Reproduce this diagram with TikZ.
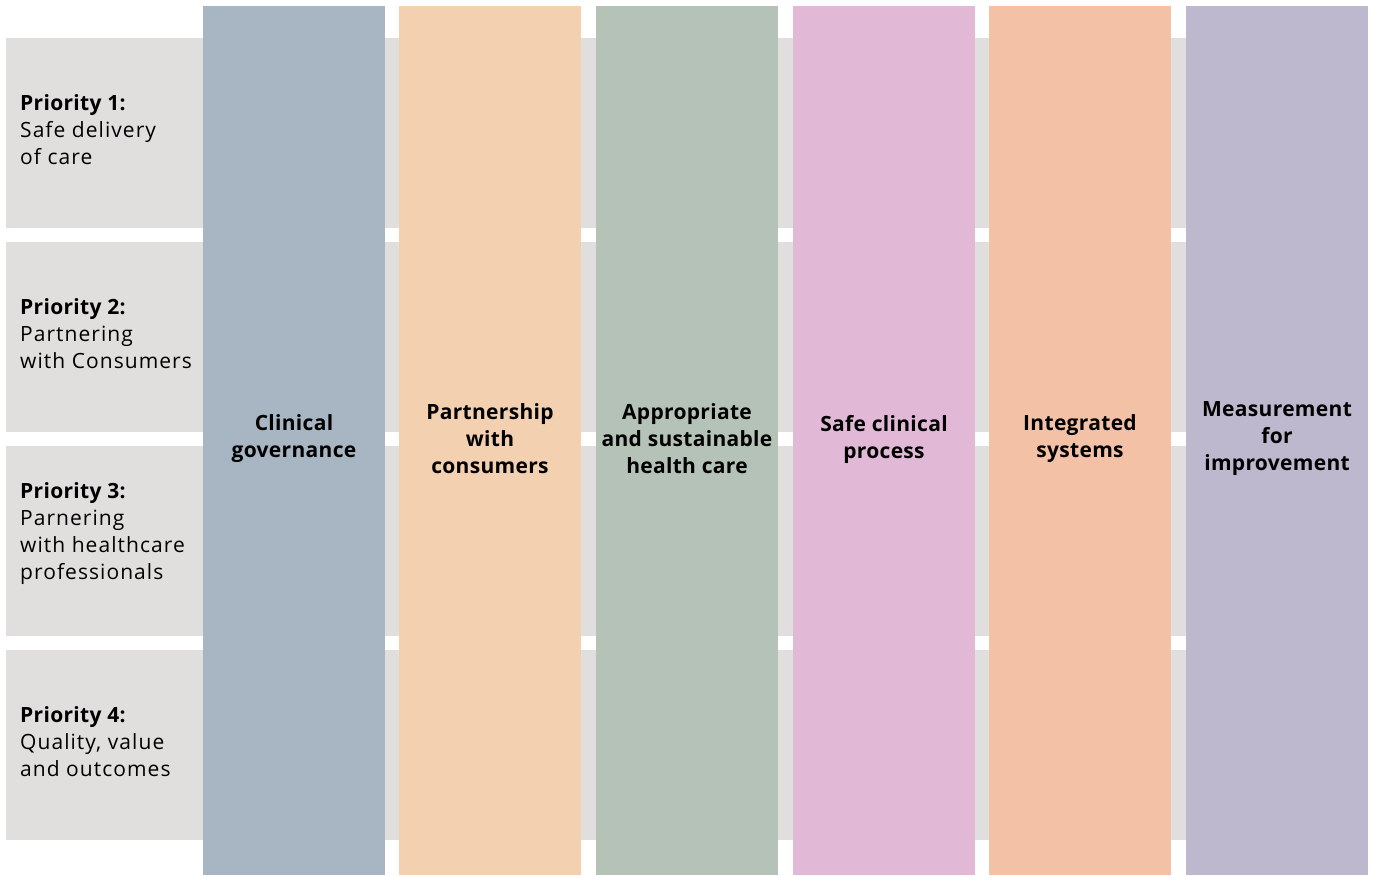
\documentclass[tikz,border=0pt]{standalone}
\usepackage{fontspec}
\setmainfont{Open Sans}[UprightFeatures={LetterSpace=5},BoldFeatures={LetterSpace=1.5}]
\definecolor{rowgray}{HTML}{E0DFDD}
\definecolor{cA}{HTML}{A8B5C2}
\definecolor{cB}{HTML}{F2D0B0}
\definecolor{cC}{HTML}{B5C2B7}
\definecolor{cD}{HTML}{E2B8D7}
\definecolor{cE}{HTML}{F2C1A6}
\definecolor{cF}{HTML}{BEB8CF}
\tikzset{
  rowbox/.style={fill=rowgray,draw=none,minimum width=1362pt,minimum height=190pt,inner sep=0pt,anchor=north west},
  colbox/.style={draw=none,minimum width=182pt,minimum height=869pt,inner sep=0pt,anchor=north west},
  rowtext/.style={anchor=west,align=left,font=\fontsize{21}{27}\selectfont,inner sep=0pt},
  coltext/.style={align=center,font=\fontsize{21}{27}\selectfont\bfseries,inner sep=0pt},
}
\begin{document}
\begin{tikzpicture}[x=1pt,y=-1pt]
\useasboundingbox (0,0) rectangle (1375,875);
% rows
\node[rowbox] (b1) at (6,38) {};
\node[rowbox] (b2) at (6,242) {};
\node[rowbox] (b3) at (6,446) {};
\node[rowbox] (b4) at (6,650) {};
\node[rowtext] (r1) at (20,130) {\textbf{Priority 1:}\\Safe delivery\\of care};
\node[rowtext] (r2) at (20,334) {\textbf{Priority 2:}\\Partnering\\with Consumers};
\node[rowtext] (r3) at (20,534) {\textbf{Priority 3:}\\Parnering\\with healthcare\\professionals};
\node[rowtext] (r4) at (20,742) {\textbf{Priority 4:}\\Quality, value\\and outcomes};
% columns
\node[colbox,fill=cA] (k1) at (203,6) {};
\node[colbox,fill=cB] (k2) at (399,6) {};
\node[colbox,fill=cC] (k3) at (596,6) {};
\node[colbox,fill=cD] (k4) at (793,6) {};
\node[colbox,fill=cE] (k5) at (989,6) {};
\node[colbox,fill=cF] (k6) at (1186,6) {};
\node[coltext] (c1) at (294,439) {Clinical\\governance};
\node[coltext] (c2) at (490,439) {Partnership\\with\\consumers};
\node[coltext] (c3) at (687,439) {Appropriate\\and sustainable\\health care};
\node[coltext] (c4) at (884,439) {Safe clinical\\process};
\node[coltext] (c5) at (1080,439) {Integrated\\systems};
\node[coltext] (c6) at (1277,439) {Measurement\\for\\improvement};
\end{tikzpicture}
\end{document}
